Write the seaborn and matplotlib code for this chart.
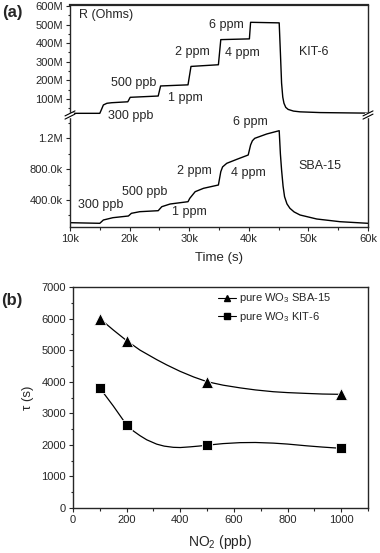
import numpy as np
import pandas as pd
import matplotlib
matplotlib.use("Agg")
import matplotlib.pyplot as plt
from matplotlib.lines import Line2D
from matplotlib.ticker import MultipleLocator, FuncFormatter, FixedLocator, FixedFormatter
import seaborn as sns

sns.set_style("ticks")
plt.rcParams['font.family'] = ['Liberation Sans', 'DejaVu Sans']
plt.rcParams['mathtext.fontset'] = 'custom'
plt.rcParams['mathtext.rm'] = 'Liberation Sans'
plt.rcParams['axes.linewidth'] = 1.0

# ---- panel (a): resistance traces ----
kit_t = [10000, 15000, 15300, 15600, 16200, 17000, 19700, 20100, 24800, 25200,
         29800, 30300, 34900, 35300, 40100, 40300, 45100, 45300, 45500, 45700,
         45900, 46200, 46600, 47500, 48600, 52000, 60000]
kit_r = [23e6, 23e6, 45e6, 68e6, 77e6, 80e6, 85e6, 109e6, 116e6, 170e6,
         176e6, 275e6, 284e6, 419e6, 423e6, 512e6, 509e6, 350e6, 185e6, 110e6,
         77e6, 55e6, 44e6, 35e6, 31e6, 27e6, 24e6]

sba_t = [10000, 15000, 15600, 17200, 19800, 20300, 21700, 24800, 25400, 26800,
         29800, 30100, 31000, 32400, 34900, 35300, 35600, 36300, 38000, 39900,
         40300, 40600, 41000, 43000, 45100, 45300, 45500, 45750, 46000, 46400,
         46900, 47600, 48600, 51400, 55300, 60000]
sba_r = [105e3, 97e3, 140e3, 170e3, 192e3, 227e3, 248e3, 261e3, 313e3, 348e3,
         378e3, 422e3, 508e3, 552e3, 595e3, 768e3, 830e3, 877e3, 929e3, 985e3,
         1115e3, 1170e3, 1202e3, 1258e3, 1301e3, 1000e3, 790e3, 580e3, 443e3, 350e3,
         292e3, 245e3, 205e3, 153e3, 118e3, 97e3]

# ---- panel (b): response time vs NO2 ----
no2 = [100, 200, 500, 1000]
tau_sba = [6000, 5300, 4000, 3600]
tau_kit = [3800, 2630, 1990, 1890]
# smooth connecting curves as drawn in the picture
fit_x_sba = [100, 150, 200, 250, 312, 350, 399, 450, 500, 560, 623, 680, 747, 800, 872, 930, 1000]
fit_y_sba = [6000, 5640, 5300, 5000, 4700, 4530, 4330, 4150, 4000, 3890, 3805, 3740, 3683, 3655, 3629, 3610, 3600]
fit_x_kit = [100, 150, 200, 225, 250, 275, 312, 340, 374, 400, 437, 470, 500, 560, 623, 680, 747, 800, 872, 930, 1000]
fit_y_kit = [3800, 3234, 2630, 2440, 2290, 2160, 2023, 1960, 1922, 1915, 1937, 1962, 1990, 2040, 2070, 2075, 2055, 2025, 1969, 1930, 1890]

kit = pd.DataFrame({"t": kit_t, "r": kit_r})
sba = pd.DataFrame({"t": sba_t, "r": sba_r})

W, H = 380, 553
fig = plt.figure(figsize=(W / 100, H / 100), dpi=100)


def fx(px):
    return px / W


def fy(py):
    return 1 - py / H


ax_up = fig.add_axes([fx(70), fy(115), fx(368) - fx(70), fy(5) - fy(115)])
ax_lo = fig.add_axes([fx(70), fy(227), fx(368) - fx(70), fy(115) - fy(227)])
ax_b = fig.add_axes([fx(73), fy(508), fx(368) - fx(73), fy(287) - fy(508)])
ax_lo.patch.set_alpha(0)

lw = 1.0
sns.lineplot(data=kit, x="t", y="r", ax=ax_up, color="black", lw=lw,
             sort=False, estimator=None)
sns.lineplot(data=sba, x="t", y="r", ax=ax_lo, color="black", lw=lw,
             sort=False, estimator=None)

for ax in (ax_up, ax_lo):
    ax.set_xlim(10000, 60000)
    ax.set_xlabel("")
    ax.set_ylabel("")
    ax.tick_params(which="both", direction="out", labelsize=8, width=0.8, right=False, top=False, pad=2)
    ax.tick_params(which="major", length=3)
    ax.tick_params(which="minor", length=1.8)

ax_up.set_ylim(14e6, 605e6)
ax_up.spines["bottom"].set_visible(False)
ax_up.spines["top"].set_linewidth(1.6)
ax_up.tick_params(axis="x", which="both", bottom=False, labelbottom=False)
ax_up.yaxis.set_major_locator(FixedLocator([100e6, 200e6, 300e6, 400e6, 500e6, 600e6]))
ax_up.yaxis.set_minor_locator(FixedLocator([50e6, 150e6, 250e6, 350e6, 450e6, 550e6]))
ax_up.yaxis.set_major_formatter(FuncFormatter(lambda v, p: f"{v / 1e6:.0f}M"))

ax_lo.set_ylim(49e3, 1505e3)
ax_lo.spines["top"].set_visible(False)
ax_lo.yaxis.set_major_locator(FixedLocator([400e3, 800e3, 1200e3]))
ax_lo.yaxis.set_major_formatter(FixedFormatter(["400.0k", "800.0k", "1.2M"]))
ax_lo.yaxis.set_minor_locator(FixedLocator([200e3, 600e3, 1000e3, 1400e3]))
ax_lo.xaxis.set_major_locator(MultipleLocator(10000))
ax_lo.xaxis.set_minor_locator(MultipleLocator(5000))
ax_lo.xaxis.set_major_formatter(FuncFormatter(lambda v, p: f"{v / 1000:.0f}k"))
ax_lo.set_xlabel("Time (s)", fontsize=9.5, labelpad=6)

fs = 9
ax_up.text(0.03, 0.96, "R (Ohms)", transform=ax_up.transAxes, fontsize=9, va="top", ha="left")
up_labels = [("300 ppb", 20100, 8e6), ("500 ppb", 20700, 186e6), ("1 ppm", 29300, 105e6),
             ("2 ppm", 30600, 354e6), ("4 ppm", 38900, 349e6), ("6 ppm", 36300, 500e6),
             ("KIT-6", 50900, 354e6)]
for s, x, y in up_labels:
    ax_up.text(x, y, s, fontsize=fs, ha="center", va="center", zorder=10)
lo_labels = [("6 ppm", 40200, 1414e3), ("2 ppm", 30800, 777e3), ("4 ppm", 39900, 751e3),
             ("SBA-15", 51900, 842e3), ("500 ppb", 22600, 504e3), ("300 ppb", 15200, 335e3),
             ("1 ppm", 30100, 244e3)]
for s, x, y in lo_labels:
    ax_lo.text(x, y, s, fontsize=fs, ha="center", va="center")

# axis break marks
for bx in (70, 368):
    fig.patches.append(plt.Rectangle((fx(bx - 3), fy(117)), fx(6), fy(113) - fy(117),
                                     transform=fig.transFigure, color="white", zorder=5))
    for d in (-1.6, 1.6):
        fig.lines.append(Line2D([fx(bx - 5), fx(bx + 5)], [fy(115 + d + 2.5), fy(115 + d - 2.5)],
                                transform=fig.transFigure, color="black", lw=0.8, zorder=6))

# ---- panel (b) ----
fit_sba = pd.DataFrame({"x": fit_x_sba, "y": fit_y_sba})
fit_kit = pd.DataFrame({"x": fit_x_kit, "y": fit_y_kit})
pts_sba = pd.DataFrame({"x": no2, "y": tau_sba})
pts_kit = pd.DataFrame({"x": no2, "y": tau_kit})

sns.lineplot(data=fit_sba, x="x", y="y", ax=ax_b, color="black", lw=0.9, estimator=None)
sns.lineplot(data=fit_kit, x="x", y="y", ax=ax_b, color="black", lw=0.9, estimator=None)
sns.scatterplot(data=pts_sba, x="x", y="y", ax=ax_b, marker="^", s=75, color="black",
                edgecolor="white", linewidth=0.6, zorder=3)
sns.scatterplot(data=pts_kit, x="x", y="y", ax=ax_b, marker="s", s=45, color="black",
                edgecolor="white", linewidth=0.6, zorder=3)

ax_b.set_xlim(0, 1100)
ax_b.set_ylim(0, 7000)
ax_b.xaxis.set_major_locator(FixedLocator([0, 200, 400, 600, 800, 1000]))
ax_b.xaxis.set_minor_locator(FixedLocator([100, 300, 500, 700, 900, 1100]))
ax_b.yaxis.set_major_locator(MultipleLocator(1000))
ax_b.yaxis.set_minor_locator(MultipleLocator(500))
ax_b.tick_params(which="both", direction="out", labelsize=8, width=0.8, right=False, top=False, pad=2)
ax_b.tick_params(which="major", length=3)
ax_b.tick_params(which="minor", length=1.8)
ax_b.set_xlabel("NO$_2$ (ppb)", fontsize=10, labelpad=6)
ax_b.set_ylabel("τ (s)", fontsize=9.5, labelpad=5)

handles = [Line2D([], [], color="black", lw=0.8, marker="^", markersize=4.5),
           Line2D([], [], color="black", lw=0.8, marker="s", markersize=4)]
ax_b.legend(handles, ["pure WO$_3$ SBA-15", "pure WO$_3$ KIT-6"], loc="upper left",
            bbox_to_anchor=(0.47, 1.01), frameon=False, fontsize=8, handlelength=1.6,
            handletextpad=0.3, labelspacing=0.4, borderaxespad=0.2)

fig.text(fx(12), fy(12), "(a)", fontsize=12, fontweight="bold", ha="center", va="center")
fig.text(fx(12), fy(300), "(b)", fontsize=12, fontweight="bold", ha="center", va="center")

fig.savefig("out.png", dpi=100)
plt.close(fig)
